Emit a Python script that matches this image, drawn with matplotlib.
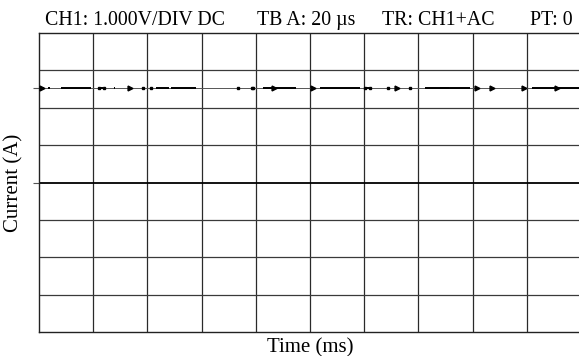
import numpy as np
import matplotlib
matplotlib.use("Agg")
import matplotlib.pyplot as plt

plt.rcParams['font.family'] = ['Liberation Serif', 'DejaVu Serif']

# scope header fields
header = ["CH1: 1.000V/DIV DC", "TB A: 20 \u00b5s", "TR: CH1+AC", "PT: 0"]

# trace level (divisions, screen centre = 0)
level = 2.53
# darker noise dashes along the trace (start, end in divisions)
seg_start = [0.02, 0.17, 0.40, 1.11, 1.38, 2.16, 2.44, 4.13, 5.18, 6.00, 7.12, 7.40, 9.10]
seg_end   = [0.09, 0.21, 0.96, 1.18, 1.41, 2.39, 2.90, 4.74, 5.92, 6.08, 7.56, 7.95, 9.96]
# small bursts on the trace (divisions)
blob_pos = [0.05, 1.68, 4.33, 5.05, 6.60, 8.36, 8.95, 9.56, 8.08]
dot_pos = [1.10, 1.20, 1.92, 2.07, 3.67, 3.93, 3.95, 6.01, 6.11, 6.43, 6.85]

fig = plt.figure(figsize=(5.79, 3.56), dpi=100)
ax = fig.add_axes([39/579, 24/356, 542/579, 299/356])

ax.set_xlim(0, 10)
ax.set_ylim(-4, 4)

# graticule
for xv in range(1, 10):
    ax.axvline(xv, color='#2a2a2a', lw=0.9, zorder=1)
for yv in range(-3, 4):
    if yv == 0:
        ax.axhline(yv, color='black', lw=1.3, zorder=1)
    else:
        ax.axhline(yv, color='#3a3a3a', lw=0.9, zorder=1)

# trace
ax.axhline(level, color='#555555', lw=0.7, zorder=2)
ax.hlines([level] * len(seg_start), seg_start, seg_end, color='black', lw=1.4, zorder=3)
ax.plot(blob_pos, [level] * len(blob_pos), ls='none', marker='>', ms=3.5,
        color='black', mec='black', zorder=4)
ax.plot(dot_pos, [level] * len(dot_pos), ls='none', marker='s', ms=1.6,
        color='black', zorder=4)

for s in ['left', 'bottom', 'top']:
    ax.spines[s].set_color('#222222')
    ax.spines[s].set_linewidth(1.0)
ax.spines['right'].set_visible(False)

ax.set_xticks([])
ax.set_yticks([0, level])
ax.set_yticklabels([])
ax.tick_params(axis='y', direction='out', length=4, width=0.8, color='#555555')

ax.set_xlabel("Time (ms)", fontsize=15, va='baseline')
ax.xaxis.set_label_coords(0.5, -(352 - 332) / 299)
ax.set_ylabel("Current (A)", fontsize=15, va='center')
ax.yaxis.set_label_coords(-25 / 542, 0.5)

xs = [45, 257, 382, 530]
for t, xp in zip(header, xs):
    fig.text(xp / 579, 1 - 25 / 356, t, fontsize=14.3, va='baseline', ha='left')

fig.savefig("out.png", dpi=100)
